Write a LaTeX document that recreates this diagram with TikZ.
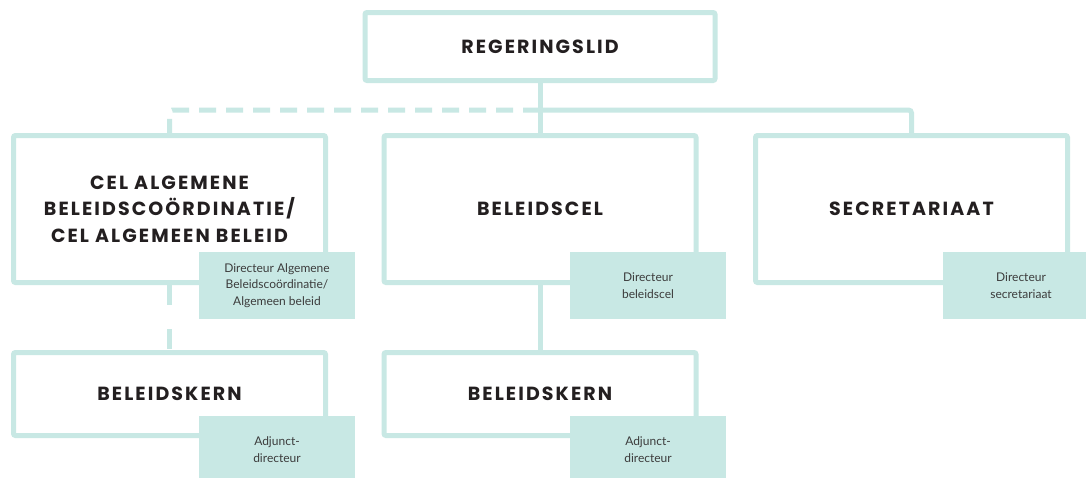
\documentclass[tikz,border=0pt]{standalone}
\usepackage{fontspec}
\setmainfont{Lato}
\newfontfamily\headfont{Poppins}[LetterSpace=11]
\definecolor{lijn}{HTML}{C8E8E4}
\definecolor{tekst}{HTML}{231F20}
\definecolor{grijs}{HTML}{3C3C3C}

\begin{document}
\begin{tikzpicture}[x=1pt,y=-1pt]
\tikzstyle{eenheid}=[draw=lijn,line width=5pt,rounded corners=2pt,fill=white,minimum width=312pt,minimum height=147pt,align=center,text=tekst,font=\headfont\bfseries\fontsize{19}{26.5}\selectfont]
\tikzstyle{kern}=[eenheid,minimum height=83pt]
\tikzstyle{functie}=[fill=lijn,minimum width=156pt,minimum height=67pt,align=center,text=grijs,font=\fontsize{12}{16.5}\selectfont]
\tikzstyle{lijnstuk}=[draw=lijn,line width=5pt]
\clip (0,0) rectangle (1086,477);
\fill[white] (0,0) rectangle (1086,477);
\node[eenheid,minimum width=350pt,minimum height=68pt] (lid) at (540,46.5) {REGERINGSLID};
\node[eenheid] (cel) at (169.5,209) {CEL ALGEMENE\\BELEIDSCOÖRDINATIE/\\CEL ALGEMEEN BELEID};
\node[eenheid] (bcel) at (540,209) {BELEIDSCEL};
\node[eenheid] (secr) at (911.5,209) {SECRETARIAAT};
\node[kern] (kern1) at (169.5,394) {BELEIDSKERN};
\node[kern] (kern2) at (540,394) {BELEIDSKERN};
\coordinate (splits) at (540,110);
\draw[lijnstuk] (lid) -- (bcel);
\draw[lijnstuk,rounded corners=3pt] (splits) -| (secr.north);
\draw[lijnstuk,dash pattern=on 17pt off 10pt,rounded corners=3pt] (splits) -| (cel.north);
\draw[lijnstuk,dash pattern=on 20pt off 24pt] (cel) -- (kern1);
\draw[lijnstuk] (bcel) -- (kern2);
\node[functie] (dir1) at (277,285.5) {Directeur Algemene\\Beleidscoördinatie/\\Algemeen beleid};
\node[functie] (dir2) at (648,285.5) {Directeur\\beleidscel};
\node[functie] (dir3) at (1021,285.5) {Directeur\\secretariaat};
\node[functie] (adj1) at (277,449.5) {Adjunct-\\directeur};
\node[functie] (adj2) at (648,449.5) {Adjunct-\\directeur};
\end{tikzpicture}
\end{document}
